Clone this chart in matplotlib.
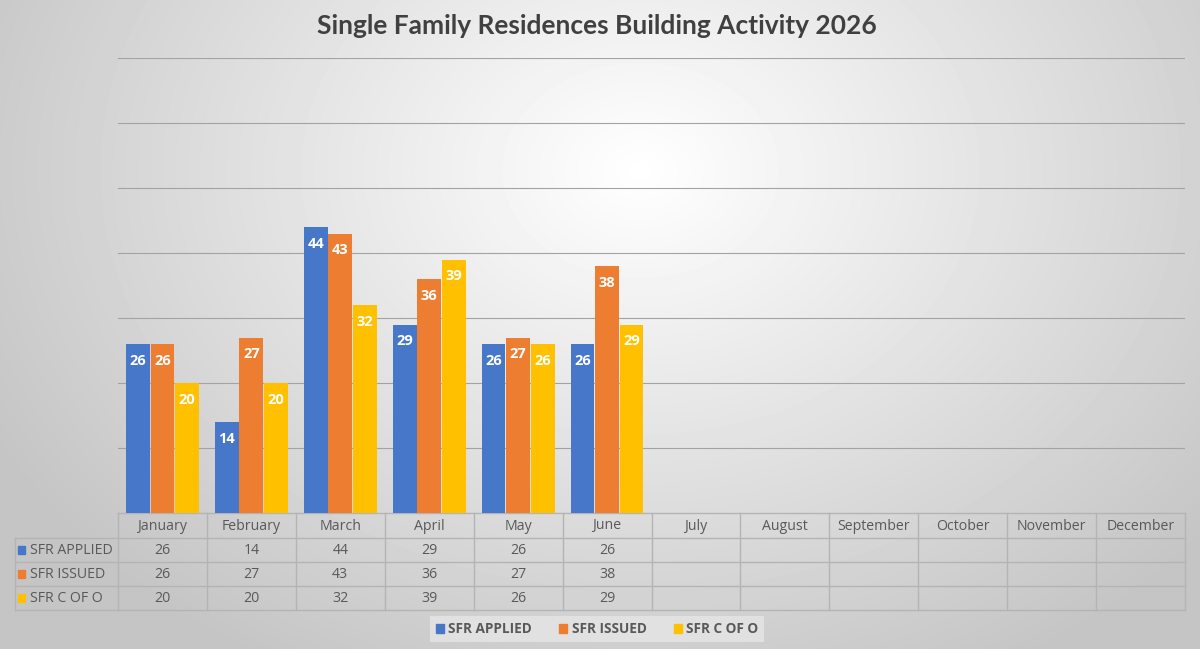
import numpy as np
import matplotlib.pyplot as plt
import matplotlib.transforms as mtransforms
from matplotlib.patches import Patch, Rectangle

months = ["January", "February", "March", "April", "May", "June", "July",
          "August", "September", "October", "November", "December"]
series_names = ["SFR APPLIED", "SFR ISSUED", "SFR C OF O"]
sfr_applied = [26, 14, 44, 29, 26, 26]
sfr_issued = [26, 27, 43, 36, 27, 38]
sfr_c_of_o = [20, 20, 32, 39, 26, 29]
colors = ["#4677C8", "#ED7D31", "#FFC000"]

W, H = 1200, 649
fig = plt.figure(figsize=(W / 100, H / 100), dpi=100)

# radial grey gradient background
bg = fig.add_axes([0, 0, 1, 1], zorder=-10)
yy, xx = np.mgrid[0:H, 0:W]
r = np.sqrt(((xx - 640) / 900) ** 2 + ((yy - 170) / 700) ** 2)
shade = np.clip(1.0 - 0.28 * r, 0.77, 1.0)
bg.imshow(shade, cmap="gray", vmin=0, vmax=1, aspect="auto", extent=[0, W, H, 0])
bg.set_axis_off()

# plot area
x0, x1, y0, y1 = 118, 1185, 513, 58
ax = fig.add_axes([x0 / W, (H - y0) / H, (x1 - x0) / W, (y0 - y1) / H])
ax.patch.set_alpha(0)
ax.set_xlim(-0.5, 11.5)
ax.set_ylim(0, 70)
ax.set_yticks(range(10, 71, 10))
ax.set_yticklabels([])
ax.set_xticks([])
ax.tick_params(length=0)
ax.grid(axis="y", color="#a3a3a3", linewidth=0.8)
ax.set_axisbelow(True)
for s in ax.spines.values():
    s.set_visible(False)

data = [sfr_applied, sfr_issued, sfr_c_of_o]
bw = 0.268
for i, vals in enumerate(data):
    xs = np.arange(len(vals)) + (i - 1) * (bw + 0.008)
    bars = ax.bar(xs, vals, width=bw, color=colors[i], zorder=3)
    for b, v in zip(bars, vals):
        ax.annotate(str(v), (b.get_x() + b.get_width() / 2, v), xytext=(0, -12),
                    textcoords="offset points", ha="center", va="center",
                    color="white", fontweight="bold", fontsize=10.5,
                    family="Open Sans", zorder=4)

# data table under the chart
tr = mtransforms.blended_transform_factory(ax.transData, fig.transFigure)
def fy(py):
    return (H - py) / H

line_kw = dict(color="#b4b4b4", linewidth=1, transform=tr, clip_on=False)
rows_y = [513, 538, 562, 586, 610]
left_x = -0.5 - 103 / ((x1 - x0) / 12)
ax.add_line(plt.Line2D([-0.5, 11.5], [fy(513)] * 2, **line_kw))
for py in rows_y[1:]:
    ax.add_line(plt.Line2D([left_x, 11.5], [fy(py)] * 2, **line_kw))
for k in range(13):
    xv = k - 0.5
    ax.add_line(plt.Line2D([xv, xv], [fy(513), fy(610)], **line_kw))
ax.add_line(plt.Line2D([left_x, left_x], [fy(538), fy(610)], **line_kw))

txt_kw = dict(transform=tr, ha="center", va="center", color="#595959",
              fontsize=10.2, family="Open Sans", clip_on=False)
for k, m in enumerate(months):
    ax.text(k, fy(526), m, **txt_kw)
for i, vals in enumerate(data):
    yc = fy((rows_y[i + 1] + rows_y[i + 2]) / 2)
    for k, v in enumerate(vals):
        ax.text(k, yc, str(v), **txt_kw)
    fig.patches.append(Rectangle((18 / W, yc - 4 / H), 7 / W, 8 / H,
                                 color=colors[i], transform=fig.transFigure))
    fig.text(30 / W, yc, series_names[i], ha="left", va="center",
             color="#595959", fontsize=10.2, family="Open Sans")

# legend
handles = [Patch(color=c, label=n) for c, n in zip(colors, series_names)]
leg = fig.legend(handles=handles, loc="center", bbox_to_anchor=(597 / W, fy(629)),
                 ncol=3, frameon=True, handlelength=0.6,
                 handleheight=0.6, handletextpad=0.3, columnspacing=2.0,
                 borderpad=0.45, prop={"family": "Open Sans", "weight": "bold", "size": 9.8})
leg.get_frame().set_facecolor("#e6e6e6")
leg.get_frame().set_edgecolor("none")
leg.get_frame().set_boxstyle("square", pad=0)
for t in leg.get_texts():
    t.set_color("#595959")

fig.text(597 / W, fy(26), "Single Family Residences Building Activity 2026",
         ha="center", va="center", fontsize=19, fontweight="bold",
         family="Lato", color="#404040")

fig.savefig("out.png", dpi=100)
